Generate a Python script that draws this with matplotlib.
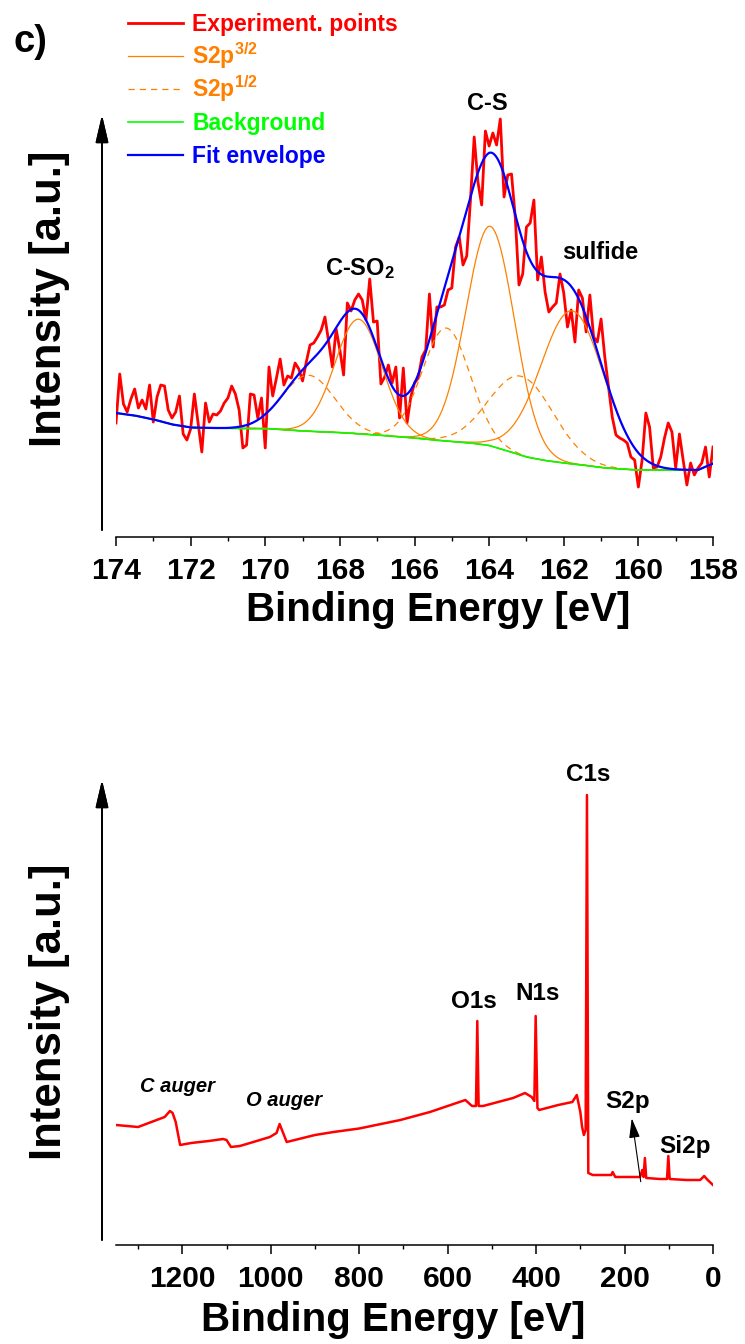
import numpy as np
import matplotlib.pyplot as plt
from matplotlib.ticker import MultipleLocator
from matplotlib.lines import Line2D

plt.rcParams['font.family'] = ['Liberation Sans', 'DejaVu Sans']
plt.rcParams['font.weight'] = 'bold'
plt.rcParams['axes.labelweight'] = 'bold'
plt.rcParams['mathtext.fontset'] = 'custom'
plt.rcParams['mathtext.rm'] = 'Liberation Sans:bold'
plt.rcParams['mathtext.bf'] = 'Liberation Sans:bold'
plt.rcParams['mathtext.it'] = 'Liberation Sans:bold:italic'
plt.rcParams['axes.linewidth'] = 1.1

W, H = 745, 1344

# S2p high resolution scan, 174.0 -> 158.0 eV in 0.1 eV steps
s2p_start = 174.0
s2p_step = 0.1
s2p_counts = [
    114, 163, 133, 125, 138, 148, 129, 137, 128, 152, 115, 140, 152, 151, 127, 119,
    125, 141, 103, 97, 108, 143, 114, 85, 134, 115, 123, 122, 126, 134, 139, 151,
    143, 127, 89, 92, 143, 142, 119, 139, 89, 170,
    141, 159, 178, 152, 161, 159, 174, 168, 156, 175, 192, 194, 200, 207, 220, 195,
    170, 208, 187, 162, 234, 226, 237, 243, 237, 217, 258, 215, 216, 153, 160, 172,
    154, 170, 119, 169, 114, 140, 154, 159,
    180, 187, 243, 190, 230, 230, 232, 247, 249, 290, 300, 272, 281, 337, 400, 355,
    332, 406, 391, 404, 392, 418, 340, 362, 363, 320, 252, 263, 310, 314, 337, 257,
    280, 245, 225, 230, 234, 263, 244, 210, 227, 195, 247,
    239, 205, 242, 200, 195, 218, 180, 150, 120, 102, 99, 97, 94, 80, 77, 50,
    77, 124, 110, 69, 70, 80, 99, 114, 105, 69, 103, 77, 52, 74, 62, 69,
    74, 90, 60, 90,
]

# background
bg_energy = [174.0, 173.5, 173.0, 172.5, 172.0, 171.0, 170.0, 169.0, 168.0, 167.0,
             166.0, 165.5, 165.0, 164.5, 164.0, 163.5, 163.0, 162.5, 162.0, 161.5,
             161.0, 160.5, 160.0, 159.0, 158.4, 158.0]
bg_counts = [124, 121.5, 117.6, 112.6, 109.5, 108.6, 108.5, 106, 104.5, 102,
             99, 97, 95.5, 94, 91.5, 86, 80, 76.5, 74, 72,
             69.5, 68, 67, 67, 67, 73.5]

# fitted doublets: C-SO2, C-S, sulfide
p32_center = [167.5, 163.97, 161.78]
p32_height = [114.5, 219.5, 153]
p32_fwhm = [1.48, 1.53, 2.0]
p12_center = [168.84, 165.15, 163.12]
p12_height = [56, 113, 79]
p12_fwhm = [1.65, 1.5, 2.0]

# survey scan
survey_energy = [1350, 1300, 1270, 1240, 1228, 1222, 1215, 1205, 1180, 1140,
                 1108, 1100, 1090, 1070, 1047, 1002, 987, 980, 972, 964,
                 900, 858, 800, 707, 640, 580, 560, 545, 536, 533,
                 530, 520, 452, 425, 410, 404, 401, 397, 393, 350,
                 318, 308, 300, 296, 292, 288, 285, 282, 272, 230,
                 227, 221, 165, 160, 157, 154, 151, 120, 104, 101,
                 98, 60, 29, 20, 12, 0]
survey_counts = [120, 118, 123, 128, 134, 132, 123, 100, 102, 104,
                 106, 105, 98, 99, 102, 108, 112, 121, 112, 103,
                 110, 113, 116.5, 125, 133, 142, 145, 139, 139, 224,
                 139, 139, 147, 152, 148, 144, 229, 137, 135, 140,
                 143, 150, 133, 118, 110, 115, 450, 72, 70, 70,
                 73, 68, 68, 75, 68, 87, 67, 66, 66, 89,
                 66, 65, 65, 69, 65, 60]


def gauss(e, center, height, fwhm):
    return height * np.exp(-4 * np.log(2) * (e - center) ** 2 / fwhm ** 2)


s2p_energy = s2p_start - s2p_step * np.arange(len(s2p_counts))
e_fit = np.linspace(174, 158, 801)
bg_fit = np.interp(e_fit, bg_energy[::-1], bg_counts[::-1])

comps32 = [gauss(e_fit, c, h, w) for c, h, w in zip(p32_center, p32_height, p32_fwhm)]
comps12 = [gauss(e_fit, c, h, w) for c, h, w in zip(p12_center, p12_height, p12_fwhm)]
envelope = bg_fit + sum(comps32) + sum(comps12)

RED = '#FF0000'
ORANGE = '#FF8000'
GREEN = '#00FF00'
BLUE = '#0000FF'

fig = plt.figure(figsize=(W / 100, H / 100), dpi=100)


def style_axis(ax):
    for side in ['left', 'right', 'top']:
        ax.spines[side].set_visible(False)
    ax.set_yticks([])
    ax.tick_params(axis='x', which='major', direction='out', length=6.2, width=1.1,
                   labelsize=21.5, pad=8)
    ax.tick_params(axis='x', which='minor', direction='out', length=3.1, width=1.0)


# ---------- top: S2p ----------
ax1 = fig.add_axes([116 / W, 1 - 537 / H, 597 / W, 422 / H])
ax1.plot(s2p_energy, s2p_counts, color=RED, lw=2.0)
for comp in comps32:
    ax1.plot(e_fit, bg_fit + comp, color=ORANGE, lw=0.9)
for comp in comps12:
    ax1.plot(e_fit, bg_fit + comp, color=ORANGE, lw=0.9, dashes=(5, 4))
ax1.plot(e_fit, bg_fit, color=GREEN, lw=1.2)
ax1.plot(e_fit, envelope, color=BLUE, lw=1.6)
ax1.set_xlim(174, 158)
ax1.set_ylim(0, 422)
ax1.set_xticks(np.arange(174, 157, -2))
ax1.xaxis.set_minor_locator(MultipleLocator(1))
style_axis(ax1)
ax1.set_xlabel('Binding Energy [eV]', fontsize=29, fontweight='bold')
ax1.xaxis.set_label_coords(0.54, -0.128)

ax1.text(164.05, 427, 'C-S', ha='center', va='baseline', fontsize=17)
ax1.text(167.46, 262, 'C-SO$_2$', ha='center', va='baseline', fontsize=17)
ax1.text(161.02, 278, 'sulfide', ha='center', va='baseline', fontsize=17)

# legend drawn by hand to keep the row spacing of the original
legend_rows = [
    ('Experiment. points', RED, '-', 2.0),
    ('S2p$^{3/2}$', ORANGE, '-', 0.9),
    ('S2p$^{1/2}$', ORANGE, '--', 0.9),
    ('Background', GREEN, '-', 1.2),
    ('Fit envelope', BLUE, '-', 1.6),
]
for i, (label, col, ls, lw) in enumerate(legend_rows):
    yrow = 22.7 + i * 33
    line = Line2D([128 / W, 183 / W], [1 - yrow / H, 1 - yrow / H], color=col, lw=lw,
                  transform=fig.transFigure)
    if ls == '--':
        line.set_dashes((5, 4))
    fig.add_artist(line)
    fig.text(192 / W, 1 - (yrow + 8.5) / H, label, color=col, fontsize=16.5,
             ha='left', va='baseline')

fig.text(14 / W, 1 - 52 / H, 'c)', fontsize=27.5, ha='left', va='baseline')

# ---------- bottom: survey ----------
ax2 = fig.add_axes([116 / W, 1 - 1245 / H, 597 / W, 465 / H])
ax2.plot(survey_energy, survey_counts, color=RED, lw=1.8)
ax2.set_xlim(1350, 0)
ax2.set_ylim(0, 465)
ax2.set_xticks(np.arange(0, 1201, 200))
ax2.xaxis.set_minor_locator(MultipleLocator(100))
style_axis(ax2)
ax2.set_xlabel('Binding Energy [eV]', fontsize=29, fontweight='bold')
ax2.xaxis.set_label_coords(0.465, -0.120)

ax2.text(282.5, 464, 'C1s', ha='center', va='baseline', fontsize=17.5)
ax2.text(541, 237, 'O1s', ha='center', va='baseline', fontsize=17.5)
ax2.text(396.6, 245, 'N1s', ha='center', va='baseline', fontsize=17.5)
ax2.text(194, 137, 'S2p', ha='center', va='baseline', fontsize=17.5)
ax2.text(63, 92, 'Si2p', ha='center', va='baseline', fontsize=17.5)
ax2.text(1210, 153, 'C auger', ha='center', va='baseline', fontsize=14.5, style='italic')
ax2.text(969.5, 139, 'O auger', ha='center', va='baseline', fontsize=14.5, style='italic')
ax2.annotate('', xy=(183.7, 126.7), xytext=(163.4, 63.3),
             arrowprops=dict(arrowstyle='-|>,head_length=1.2,head_width=0.33', color='k',
                             lw=0.8, shrinkA=0, shrinkB=0, mutation_scale=10))

# intensity arrows in place of y axes
for y0, y1 in [(530, 115), (1240, 780)]:
    fig.add_artist(plt.annotate('', xy=(102, H - y1), xytext=(102, H - y0),
                                xycoords='figure pixels',
                                arrowprops=dict(arrowstyle='-|>,head_length=1.2,head_width=0.28',
                                                color='k', lw=1.3, shrinkA=0, shrinkB=0,
                                                mutation_scale=14)))

fig.text(50 / W, 1 - 299 / H, 'Intensity [a.u.]', rotation=90, ha='center', va='center',
         fontsize=31.5)
fig.text(50 / W, 1 - 1012 / H, 'Intensity [a.u.]', rotation=90, ha='center', va='center',
         fontsize=31.5)

fig.savefig('out.png', dpi=100)
